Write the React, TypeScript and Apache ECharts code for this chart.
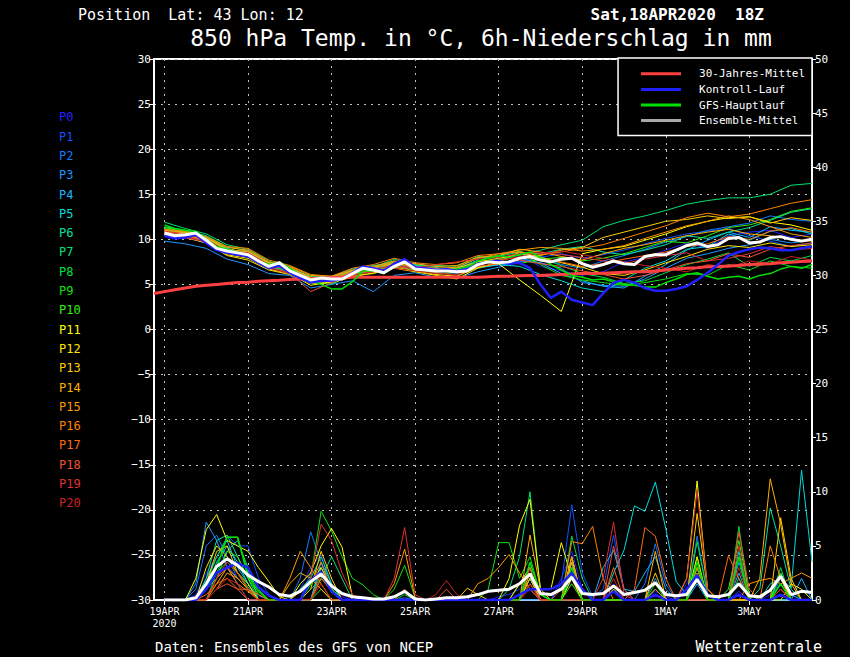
import React, { useEffect, useRef } from "react";
import * as echarts from "echarts";

const MONO = '"DejaVu Sans Mono", "Liberation Mono", monospace';
const MONTHS = ["JAN", "FEB", "MAR", "APR", "MAY", "JUN", "JUL", "AUG", "SEP", "OCT", "NOV", "DEC"];
const RUN_START_UTC = Date.UTC(2020, 3, 18, 18);
const STEP_COUNT = 64;
const timeCategories: string[] = Array.from({ length: STEP_COUNT }, (_, i) => {
  const d = new Date(RUN_START_UTC + i * 6 * 3600 * 1000);
  return `${d.getUTCDate()}${MONTHS[d.getUTCMonth()]} ${String(d.getUTCHours()).padStart(2, "0")}Z`;
});
const xTickLabels = ["19APR\n2020", "21APR", "23APR", "25APR", "27APR", "29APR", "1MAY", "3MAY"];
const isDayTick = (i: number) => i % 8 === 1;

const memberNames = ["P0", "P1", "P2", "P3", "P4", "P5", "P6", "P7", "P8", "P9", "P10", "P11", "P12", "P13", "P14", "P15", "P16", "P17", "P18", "P19", "P20"];
const memberColors = [
  "#2020ff", "#1050ff", "#1478ff", "#1e96ff", "#18b4ff", "#00dcdc", "#00e0a0", "#00e070", "#00e040", "#10e010", "#30f010",
  "#ffff00", "#ffe600", "#ffcc00", "#ffb000", "#ff9a00", "#ff8200", "#ff6a10", "#f05030", "#e03030", "#c82020",
];

// 850 hPa temperature of the members, every 12 h from 19APR 00Z
const tempP0 = [10.5, 10.3, 9.8, 8.6, 8.0, 6.8, 6.4, 5.2, 5.5, 6.4, 6.8, 7.2, 6.9, 6.7, 6.6, 7.4, 7.8, 8.2, 7.0, 6.5, 6.0, 6.4, 7.5, 8.0, 8.8, 9.6, 9.0, 10.4, 10.8, 11.0, 10.2, 10.6];
const tempP1 = [10.8, 10.6, 10.0, 8.9, 8.5, 7.2, 6.3, 5.4, 5.8, 6.1, 6.9, 7.1, 6.6, 6.8, 6.2, 7.0, 7.1, 7.5, 8.0, 8.4, 7.9, 8.3, 8.8, 9.5, 10.1, 10.6, 10.9, 11.2, 10.4, 9.8, 9.2, 9.6];
const tempP2 = [10.4, 10.2, 9.6, 8.5, 8.1, 6.9, 6.6, 5.6, 5.1, 6.0, 6.4, 7.1, 6.8, 6.3, 6.1, 7.3, 7.5, 8.4, 8.1, 7.2, 6.8, 7.6, 8.2, 8.9, 9.7, 10.3, 11.0, 11.4, 11.8, 12.6, 12.2, 12.0];
const tempP3 = [9.8, 9.5, 9.0, 7.8, 7.2, 6.2, 6.0, 4.6, 5.0, 5.4, 4.2, 6.0, 6.3, 5.8, 5.7, 6.4, 6.9, 7.6, 7.4, 6.8, 5.2, 4.9, 4.8, 5.6, 6.8, 7.9, 8.4, 9.0, 9.4, 10.0, 9.6, 9.9];
const tempP4 = [10.9, 10.7, 10.1, 8.8, 8.6, 7.1, 6.7, 5.7, 5.9, 6.3, 6.7, 7.3, 6.9, 6.6, 6.7, 7.7, 7.3, 7.9, 7.4, 6.2, 5.4, 4.8, 4.6, 5.9, 7.2, 8.8, 9.9, 10.8, 10.2, 11.4, 11.0, 10.8];
const tempP5 = [11.0, 10.8, 10.2, 9.0, 8.4, 7.3, 6.8, 5.9, 5.7, 6.6, 6.7, 7.6, 7.0, 6.9, 6.3, 6.8, 7.2, 7.0, 6.1, 5.4, 4.6, 4.2, 5.5, 6.8, 7.6, 8.9, 9.2, 10.6, 9.9, 10.9, 11.2, 10.6];
const tempP6 = [11.4, 11.0, 10.4, 9.2, 8.7, 7.4, 6.9, 5.8, 5.9, 6.7, 7.1, 7.4, 7.2, 7.0, 6.8, 7.9, 8.1, 8.6, 8.4, 8.9, 9.2, 8.6, 8.3, 8.8, 9.4, 10.4, 10.1, 10.8, 11.3, 12.1, 13.0, 13.4];
const tempP7 = [11.9, 11.2, 10.6, 9.4, 8.9, 7.6, 6.7, 5.9, 5.8, 6.5, 6.9, 7.8, 7.1, 7.1, 7.0, 8.1, 7.9, 8.3, 8.8, 9.4, 9.9, 11.4, 12.1, 12.6, 13.2, 13.9, 14.3, 14.6, 14.6, 15.0, 16.0, 16.2];
const tempP8 = [11.2, 10.9, 10.2, 8.7, 8.3, 7.0, 6.5, 5.3, 5.0, 6.1, 6.5, 7.0, 6.6, 6.4, 6.6, 7.6, 8.2, 8.7, 7.9, 7.1, 6.2, 5.8, 5.1, 5.4, 6.3, 7.2, 7.8, 8.5, 7.0, 8.0, 7.6, 8.2];
const tempP9 = [11.1, 10.8, 10.0, 8.8, 8.2, 7.1, 6.4, 5.4, 5.3, 6.3, 6.6, 7.4, 6.8, 6.2, 6.3, 7.6, 7.7, 8.5, 7.2, 6.0, 5.5, 5.2, 4.9, 5.2, 5.6, 6.2, 6.0, 7.2, 6.6, 7.6, 7.0, 6.8];
const tempP10 = [11.3, 10.9, 10.3, 8.9, 8.4, 7.2, 6.6, 5.5, 5.6, 6.2, 6.5, 7.2, 6.6, 6.5, 6.4, 7.2, 7.6, 7.3, 7.8, 8.0, 7.6, 7.9, 8.4, 9.1, 9.8, 9.6, 10.4, 11.3, 11.6, 12.2, 13.1, 13.5];
const tempP11 = [10.6, 10.5, 9.9, 8.3, 7.9, 6.7, 6.2, 4.9, 5.3, 6.0, 6.2, 6.9, 6.5, 6.1, 5.9, 6.9, 7.3, 5.5, 3.8, 2.0, 8.4, 8.9, 9.2, 9.9, 10.6, 11.4, 12.0, 12.4, 12.5, 11.9, 11.6, 11.0];
const tempP12 = [10.4, 10.2, 9.6, 8.2, 7.7, 6.6, 6.1, 5.1, 5.2, 5.8, 6.3, 6.8, 6.4, 6.0, 5.6, 6.8, 7.5, 8.6, 8.0, 7.4, 6.9, 6.2, 6.0, 6.6, 7.4, 8.1, 8.9, 9.3, 9.1, 9.6, 9.2, 9.4];
const tempP13 = [10.9, 10.7, 10.1, 8.9, 8.6, 7.4, 6.8, 5.8, 5.6, 6.4, 6.9, 7.3, 7.0, 6.7, 6.8, 7.5, 7.9, 8.3, 8.2, 8.8, 9.1, 10.2, 10.8, 11.4, 12.0, 12.2, 12.6, 12.3, 12.5, 11.8, 12.4, 12.1];
const tempP14 = [11.0, 10.8, 10.2, 9.1, 8.8, 7.5, 7.0, 6.0, 5.9, 6.5, 7.0, 7.6, 7.3, 7.0, 7.1, 8.0, 8.2, 8.9, 8.6, 8.1, 7.7, 8.4, 9.0, 9.4, 9.9, 10.4, 10.8, 11.1, 10.6, 10.4, 10.0, 9.8];
const tempP15 = [10.8, 10.6, 10.0, 8.8, 8.7, 7.3, 6.9, 5.7, 5.8, 6.6, 6.8, 7.5, 7.0, 6.8, 6.9, 7.9, 8.4, 8.8, 9.1, 9.0, 8.7, 8.9, 9.3, 10.1, 10.8, 11.5, 12.0, 12.6, 12.2, 11.4, 10.6, 10.2];
const tempP16 = [11.1, 10.9, 10.3, 9.2, 9.0, 7.7, 7.1, 6.1, 5.9, 6.8, 7.2, 7.9, 7.4, 7.2, 7.4, 8.2, 8.4, 8.6, 8.3, 8.6, 9.0, 9.4, 10.1, 10.8, 11.5, 12.4, 12.9, 12.5, 12.8, 13.4, 14.0, 14.4];
const tempP17 = [10.7, 10.4, 9.9, 8.6, 8.4, 7.1, 6.7, 5.3, 5.5, 6.4, 6.5, 7.3, 6.9, 6.5, 6.4, 7.3, 7.7, 8.0, 7.8, 7.5, 7.0, 7.3, 7.8, 8.2, 8.6, 9.2, 9.5, 10.3, 10.0, 10.9, 11.3, 10.8];
const tempP18 = [10.6, 10.3, 9.8, 8.5, 8.2, 6.9, 6.3, 4.2, 5.2, 6.1, 6.4, 7.0, 6.7, 6.3, 6.0, 7.0, 7.3, 7.7, 7.3, 7.0, 6.5, 6.1, 5.6, 6.0, 6.6, 7.3, 7.6, 8.4, 8.0, 8.9, 9.3, 9.6];
const tempP19 = [10.9, 10.6, 10.0, 8.7, 8.5, 7.2, 6.6, 5.6, 5.4, 6.3, 6.7, 7.1, 6.8, 7.2, 7.5, 7.8, 8.0, 8.4, 8.6, 8.3, 8.0, 7.6, 7.3, 7.8, 8.2, 8.5, 7.6, 7.9, 8.4, 9.2, 8.8, 9.0];
const tempP20 = [10.5, 10.2, 9.7, 8.4, 8.0, 6.8, 6.2, 5.2, 5.7, 6.0, 6.4, 6.8, 6.5, 6.2, 6.1, 7.1, 7.6, 8.1, 8.4, 8.7, 8.3, 7.9, 7.5, 7.1, 6.8, 6.4, 7.2, 6.9, 7.6, 7.3, 8.1, 7.7];
const tempMembers = [tempP0, tempP1, tempP2, tempP3, tempP4, tempP5, tempP6, tempP7, tempP8, tempP9, tempP10, tempP11, tempP12, tempP13, tempP14, tempP15, tempP16, tempP17, tempP18, tempP19, tempP20];

// 6-hour precipitation of the members, every 6 h from 19APR 00Z (mm)
const rainP0 = [0, 0, 0, 0.5, 2.5, 4, 3.2, 2, 1, 0.4, 0, 0, 0, 1, 3, 4.2, 1.5, 0.3, 0, 0, 0, 0, 0, 0, 0, 0, 0, 0, 0, 0, 0, 0, 0.3, 0.5, 1, 2, 0.5, 0, 2, 4.5, 1, 0, 0, 1.5, 0, 0, 0, 0.8, 0.3, 0, 1.5, 3.5, 0.5, 0, 0, 0.8, 0, 0, 0.5, 1.5, 0.5, 0, 0];
const rainP1 = [0, 0, 0, 0, 1, 3, 6, 5, 5, 2, 0.5, 0, 0, 0, 2.5, 3, 1, 0, 0, 0, 0, 0, 0, 0, 0, 0, 0, 0, 0, 0, 0, 0, 0, 0, 0, 0, 0, 0, 1.5, 8.8, 2.5, 0.3, 1, 6, 1, 0, 0, 0, 0, 0, 0, 2, 0, 0, 0, 0, 0, 0, 0, 0, 0, 0, 0];
const rainP2 = [0, 0, 0, 1, 5, 6, 4, 2, 1, 0, 0, 0, 0, 2, 6.3, 3.5, 0.8, 0, 0, 0, 0, 0, 0, 0.2, 0, 0, 0, 0, 0, 0, 0, 0, 0, 0, 0, 3.5, 0.5, 0, 0, 3, 0, 0, 0, 0, 0, 0, 1.5, 5.2, 1.5, 0, 0, 5.9, 0.5, 0, 0, 0, 0, 0, 0, 2, 0, 0, 0];
const rainP3 = [0, 0, 0, 1.5, 7.2, 5.5, 3, 1.5, 0, 0, 0, 0, 0, 0, 1.5, 2.5, 1, 0, 0, 0, 0, 0, 0, 0, 0, 0, 0, 0, 0, 0, 0, 0, 0, 0, 0.5, 1, 0, 0, 0, 2, 0, 0, 0, 1, 0, 0, 0, 2, 0, 0, 0, 0, 0, 0, 0, 3.5, 0, 0, 0, 2.5, 0.5, 0, 0];
const rainP4 = [0, 0, 0, 0, 2, 4, 5.5, 3, 1.5, 0, 0, 0, 0, 0, 0, 3.5, 1.5, 0, 0, 0, 0, 0, 0, 0, 0, 0, 0, 0, 0, 0, 0, 0, 0, 0, 0, 0, 0, 0, 0, 3.5, 0, 0, 3, 4.6, 1, 0.8, 2.5, 4, 1, 0, 0, 1.5, 0, 0, 0, 2.5, 0, 0, 0, 0, 0, 2, 0];
const rainP5 = [0, 0, 0, 0, 1, 3.5, 5, 3.5, 1.5, 0, 0, 0, 0, 0, 0, 3, 1, 0, 0, 0, 0, 0, 0, 0, 0, 0, 0, 0, 0, 0, 0, 0, 0, 0, 0, 2, 0, 0, 0, 0, 0, 0, 0, 2.5, 4.6, 8.7, 8.2, 10.9, 6.6, 1.7, 0.5, 2, 0, 0, 0, 4.5, 0, 0, 1.5, 2, 1.1, 12, 3.5];
const rainP6 = [0, 0, 0, 0, 2, 5.5, 6, 4, 2, 0, 0, 0, 0, 1, 2, 4, 1.5, 0, 0, 0, 0, 0, 0, 0, 0, 0, 0, 0, 0, 0, 0, 0, 0, 0, 1.5, 3, 0, 0, 0, 4, 0, 0, 0, 0, 0, 0, 0, 1, 0, 0, 0, 3, 0, 0, 0, 0, 0, 1, 8.5, 5, 1, 0, 0];
const rainP7 = [0, 0, 0, 0, 0, 2.5, 4.5, 5.5, 3, 0, 0, 0, 0, 0, 1, 2, 4, 2, 0, 0, 0, 0, 0, 0, 0, 0, 0, 0, 0, 0, 0, 0, 0, 1, 4, 10, 1, 0, 0, 2.5, 0, 0, 0, 0, 0, 0, 0, 0, 0, 0, 0, 2, 0, 0, 0, 2, 0, 0, 0, 0, 0, 0, 0];
const rainP8 = [0, 0, 0, 0, 1.5, 4, 5.8, 5.8, 2.5, 1, 0, 0, 0, 0, 0, 2, 1, 0, 0, 0, 0, 0, 0, 0.5, 0, 0, 0, 0, 0, 0, 0, 0, 0, 0, 0, 2, 0, 0, 0, 5.9, 2, 0, 0, 0, 0, 0, 0, 0, 0, 0, 0, 5.4, 0.5, 0, 0, 6.8, 0, 0, 0, 3, 0, 0, 0];
const rainP9 = [0, 0, 0, 0, 1, 2.5, 3.5, 2.5, 1.2, 0, 0, 0, 0, 0, 2, 8.2, 6.4, 4, 2, 1.4, 0.5, 0, 1, 3.2, 0.2, 0, 0, 0, 0, 0, 0, 1, 5.3, 5.3, 2, 4, 0.5, 0, 0, 0, 0, 0, 0, 0, 0, 0, 0, 1.5, 0, 0, 0, 3, 0, 0, 0, 0, 0, 0, 0, 1.5, 0, 0, 0];
const rainP10 = [0, 0, 0, 0, 1, 2, 4.5, 4, 2, 0.5, 0, 0, 0, 0, 0, 1, 0, 0, 0, 0, 0, 0, 0, 0, 0, 0, 0, 0, 0, 0, 0, 0, 0, 0, 0, 2.5, 0, 0, 0, 1.5, 0, 0, 0, 0, 0, 0, 0, 0, 0, 0, 0, 4, 0, 0, 1, 5.5, 0.5, 0, 0, 2.5, 0, 0, 0];
const rainP11 = [0, 0, 0, 2, 6.5, 7.9, 5.5, 5, 4.5, 3, 1.7, 0.3, 0, 1.5, 2.5, 5, 6.6, 4.9, 0.3, 0, 0, 0, 0, 0, 0, 0, 0, 0, 0, 0, 0, 0, 0, 2, 6.9, 9.3, 1, 1, 5.3, 2, 0, 0, 0, 0, 0, 0, 0, 0, 0, 0, 2, 11, 1, 0, 0, 0, 0, 0, 1, 2, 0, 0, 0];
const rainP12 = [0, 0, 0, 0, 3, 5, 4, 2.5, 1.5, 0, 0, 0, 0, 0.8, 1.5, 3, 1, 0, 0, 0, 0, 0, 0, 0, 0, 0, 0, 0, 0, 0, 0, 0, 0, 0, 1.5, 3, 0, 0, 0, 2, 0, 0, 0, 1, 0, 0, 0, 0, 0, 0, 0, 4, 0, 0, 0, 0, 0, 0, 0, 0, 1.5, 1, 0];
const rainP13 = [0, 0, 0, 0, 1.5, 4.5, 5, 2.5, 1, 0, 0, 0, 0, 0, 1, 4.5, 2, 0, 0, 0, 0, 0, 0, 0, 0, 0, 0, 0, 0, 1.1, 0.5, 0, 0, 0, 0, 2, 0, 0, 0, 4, 0, 0, 0, 0, 0, 0, 0, 2.5, 0, 0, 0, 8, 1, 0, 0, 0, 0, 0, 0, 7.6, 2, 0, 0];
const rainP14 = [0, 0, 0, 0, 0, 1.5, 3, 2, 1, 0, 0, 0, 1.5, 2.5, 2, 1, 0, 0, 0, 0, 0, 0, 0, 0, 0, 0, 0, 0, 0, 0, 0, 0, 0, 0, 0, 6, 1, 0, 0, 3.5, 0, 0, 0, 0, 0, 0, 0, 4.5, 0, 0, 0, 2.5, 0, 0, 0, 0, 0, 2, 11.2, 7, 1.5, 0, 0];
const rainP15 = [0, 0, 0, 0, 0, 1, 2.5, 2, 1, 0, 0, 0, 2, 4.5, 3, 1.5, 0, 0, 0, 0, 0, 0, 1.5, 4.7, 0.2, 0, 0, 0, 0, 0, 1.5, 2, 3, 4.2, 2.5, 1, 0, 0, 0, 4, 0, 0, 0, 0, 0, 0, 0, 1, 0, 0, 0, 0, 0, 0, 0, 0, 1.5, 1.8, 2, 1.5, 2, 2.5, 2];
const rainP16 = [0, 0, 0, 0, 0, 2, 3, 1.5, 0.8, 0, 0, 0, 0, 0, 1.5, 3.5, 1, 0, 0, 0, 0, 0, 0, 0, 0, 0, 0, 0, 0, 0, 0, 0, 0, 0, 0, 2.5, 0, 0, 0, 5.4, 5.2, 6.8, 2, 0, 0, 0, 0, 0, 0, 0, 0, 3, 0, 0, 0, 0, 0, 0, 5, 2, 0, 0, 0];
const rainP17 = [0, 0, 0, 0, 0.5, 1.5, 2, 1, 1, 0.5, 0, 0, 0, 0, 0, 2, 0.8, 0, 0, 0, 0, 0, 0, 1, 0, 0, 0, 0, 0, 0, 0, 0, 0, 0, 0, 1.5, 0, 0, 0, 0, 0, 0, 0, 3, 0, 1, 6.7, 5.9, 2, 0, 0, 0, 0, 0, 4.1, 2, 0, 0, 0, 1, 0, 0, 0];
const rainP18 = [0, 0, 0, 0, 0, 1, 1.5, 1, 0, 0, 0, 0, 0, 0, 0, 2.5, 1, 0, 0, 0, 0, 0, 0, 0, 0, 0, 0, 1, 0, 0, 0, 0, 0, 0, 0, 3, 0, 0, 1, 2.5, 0, 0, 0, 5, 1, 0, 0, 0, 0, 0, 0, 0, 0, 0, 0, 6.3, 1, 0, 0, 1, 0, 0, 0];
const rainP19 = [0, 0, 0, 0, 0, 2, 3.5, 2.5, 1, 0, 0, 0, 0, 0, 2, 7, 5.5, 2.5, 0.5, 0, 0, 0, 2, 6.7, 0.5, 0, 0, 0, 0, 0, 0, 0, 0, 0, 0, 1.5, 0, 0, 0, 0, 0, 0, 2, 7.2, 0.5, 0, 0, 0, 0, 0, 2, 10.1, 1, 0, 0, 5, 0, 0, 0, 1, 0, 0, 0];
const rainP20 = [0, 0, 0, 0, 0, 1, 2, 1.5, 0, 0, 0, 0, 0, 0, 0, 1.5, 0, 0, 0, 0, 0, 0, 0, 0, 0, 0, 0.5, 1.8, 0.5, 0, 0, 0, 0, 0, 0, 1, 0, 0, 0, 0, 0, 0, 0, 2, 0, 0, 0, 0, 0, 0, 0, 0, 0, 0, 0, 3, 0, 0, 0, 0.5, 0, 0, 0];
const rainMembers = [rainP0, rainP1, rainP2, rainP3, rainP4, rainP5, rainP6, rainP7, rainP8, rainP9, rainP10, rainP11, rainP12, rainP13, rainP14, rainP15, rainP16, rainP17, rainP18, rainP19, rainP20];

// 30-year mean, every 6 h from 18APR 18Z
const climateMean = [
  4.0, 4.2, 4.4, 4.6, 4.8, 4.9, 5.0, 5.1, 5.2, 5.25, 5.35, 5.4, 5.45, 5.55, 5.6, 5.65,
  5.7, 5.75, 5.8, 5.8, 5.8, 5.8, 5.8, 5.8, 5.8, 5.8, 5.8, 5.8, 5.8, 5.8, 5.8, 5.8,
  5.85, 5.9, 5.9, 5.95, 6.0, 6.0, 6.05, 6.1, 6.15, 6.2, 6.2, 6.25, 6.3, 6.35, 6.4, 6.4,
  6.5, 6.6, 6.7, 6.8, 6.85, 6.95, 7.0, 7.05, 7.1, 7.2, 7.25, 7.3, 7.4, 7.45, 7.55, 7.6,
];
// Every 6 h from 19APR 00Z
const ensembleMeanTemp = [
  10.7, 10.4, 10.5, 10.7, 9.9, 9.0, 8.7, 8.5, 8.3, 7.6, 7.0, 7.4, 6.5, 6.0, 5.5, 5.7,
  5.6, 5.6, 6.2, 6.8, 6.6, 6.3, 7.0, 7.5, 6.7, 6.6, 6.5, 6.5, 6.4, 6.5, 7.2, 7.5,
  7.4, 7.5, 7.9, 8.1, 7.7, 7.5, 7.8, 7.9, 7.3, 6.9, 7.2, 7.6, 7.3, 7.2, 8.1, 8.3,
  8.3, 8.8, 9.3, 9.6, 9.2, 9.4, 10.1, 10.2, 9.6, 9.7, 10.2, 10.3, 10.0, 9.8, 10.0,
];
const controlTemp = [
  10.4, 10.1, 10.2, 10.5, 9.6, 8.8, 8.5, 8.3, 8.1, 7.4, 6.8, 7.1, 6.3, 5.7, 5.2, 5.4,
  5.4, 5.6, 6.3, 7.0, 6.8, 6.5, 7.3, 7.8, 6.9, 6.8, 6.6, 6.7, 6.5, 6.7, 7.2, 7.5,
  7.6, 7.3, 7.4, 6.8, 5.0, 3.5, 4.2, 3.3, 3.0, 2.7, 4.0, 5.2, 5.5, 5.2, 4.6, 4.3,
  4.3, 4.5, 4.8, 5.5, 6.3, 7.2, 8.2, 8.6, 8.9, 9.1, 9.0, 8.8, 8.8, 9.0, 9.2,
];
const gfsTemp = [
  11.6, 11.2, 11.0, 10.9, 10.0, 9.2, 8.9, 8.6, 8.3, 7.6, 7.2, 7.5, 6.8, 6.0, 5.4, 5.0,
  4.5, 4.5, 5.3, 6.5, 6.5, 6.2, 7.0, 7.6, 6.8, 6.8, 6.4, 6.6, 6.7, 6.9, 7.6, 7.9,
  8.2, 8.0, 8.3, 8.6, 8.0, 7.2, 6.6, 6.0, 5.8, 5.5, 5.6, 5.3, 5.0, 4.9, 4.7, 4.7,
  5.2, 5.6, 6.1, 6.3, 5.9, 5.6, 5.8, 5.9, 5.6, 6.0, 6.2, 6.7, 7.0, 6.8, 7.2,
];
const ensembleMeanRain = [
  0, 0, 0, 0.2, 1.5, 3.1, 3.8, 3.2, 2.3, 1.7, 1.2, 0.5, 0.35, 0.8, 1.7, 2.4,
  1.3, 0.6, 0.3, 0.2, 0.1, 0.1, 0.3, 0.8, 0.1, 0, 0.1, 0.2, 0.2, 0.3, 0.5, 0.8,
  0.9, 1.0, 1.5, 2.4, 0.6, 0.5, 1.0, 2.1, 0.6, 0.5, 0.6, 1.3, 0.5, 0.7, 0.9, 1.6,
  0.5, 0.4, 0.5, 1.9, 0.4, 0.3, 0.5, 1.5, 0.4, 0.3, 0.9, 2.2, 0.5, 0.8, 0.7,
];
const controlRain = [
  0, 0, 0, 0, 1.0, 2.5, 3.0, 3.4, 3.0, 1.2, 0.4, 0, 0, 0, 1.8, 2.6,
  0.8, 0, 0, 0, 0, 0, 0, 0, 0, 0, 0, 0, 0, 0, 0, 0,
  0, 0, 0.5, 1.0, 1.0, 1.0, 1.5, 2.5, 1.0, 0, 0, 0.8, 0, 0, 0, 0.5,
  0, 0, 1.0, 2.3, 0.5, 0, 0, 0.5, 0, 0, 0, 0.5, 0, 0, 0,
];
const gfsRain = [
  0, 0, 0, 0, 1.0, 3.0, 5.8, 5.8, 2.2, 0.8, 0, 0, 0, 0, 1.5, 2.5,
  1.0, 0, 0, 0, 0, 0, 0, 0, 0, 0, 0, 0, 0, 0, 0, 0,
  0, 0, 0, 3.5, 0.5, 0, 0, 3.0, 0, 0, 0, 0, 0, 0, 0, 0,
  0, 0, 0, 3.5, 0, 0, 0, 4.0, 0, 0, 0, 1.5, 0, 0, 0,
];

const C_CLIM = "#ff4040";
const C_CTRL = "#2020ff";
const C_GFS = "#00e000";
const C_MEAN = "#ffffff";
const C_MEAN_LEGEND = "#a8a8a8";

const every6h = (arr: number[]) => arr.map((v, i) => [i + 1, v]);
const every12h = (arr: number[]) => arr.map((v, k) => [2 * k + 1, v]);

function buildOption() {
  const base = { type: "line", symbol: "none", silent: true, animation: false, emphasis: { disabled: true } };
  const series: any[] = [];
  rainMembers.forEach((arr, m) =>
    series.push({ ...base, name: memberNames[m], yAxisIndex: 1, data: every6h(arr), lineStyle: { color: memberColors[m], width: 1 } })
  );
  tempMembers.forEach((arr, m) =>
    series.push({ ...base, name: memberNames[m], yAxisIndex: 0, data: every12h(arr), lineStyle: { color: memberColors[m], width: 1 } })
  );
  series.push({ ...base, name: "30-Jahres-Mittel", yAxisIndex: 0, data: climateMean, itemStyle: { color: C_CLIM }, lineStyle: { color: C_CLIM, width: 3 } });
  series.push({ ...base, name: "GFS-Hauptlauf", yAxisIndex: 0, data: every6h(gfsTemp), itemStyle: { color: C_GFS }, lineStyle: { color: C_GFS, width: 1.5 } });
  series.push({ ...base, name: "GFS-Hauptlauf", yAxisIndex: 1, data: every6h(gfsRain), itemStyle: { color: C_GFS }, lineStyle: { color: C_GFS, width: 1.5 } });
  series.push({ ...base, name: "Kontroll-Lauf", yAxisIndex: 0, data: every6h(controlTemp), itemStyle: { color: C_CTRL }, lineStyle: { color: C_CTRL, width: 2.5 } });
  series.push({ ...base, name: "Kontroll-Lauf", yAxisIndex: 1, data: every6h(controlRain), itemStyle: { color: C_CTRL }, lineStyle: { color: C_CTRL, width: 2.5 } });
  series.push({ ...base, name: "Ensemble-Mittel", yAxisIndex: 1, data: every6h(ensembleMeanRain), itemStyle: { color: C_MEAN }, lineStyle: { color: C_MEAN, width: 3 } });
  series.push({ ...base, name: "Ensemble-Mittel", yAxisIndex: 0, data: every6h(ensembleMeanTemp), itemStyle: { color: C_MEAN }, lineStyle: { color: C_MEAN, width: 3 } });

  const dotted = { color: "#c0c0c0", type: [2, 5], width: 1 };
  const memberLabels = memberNames.map((n, i) => ({
    type: "text",
    x: 59,
    y: 117.3 + i * 19.3,
    silent: true,
    style: { text: n, fill: memberColors[i], fontFamily: MONO, fontSize: 12, align: "left", verticalAlign: "middle", textAlign: "left", textVerticalAlign: "middle" },
  }));
  const txt = (text: string, x: number, y: number, size: number, align: string, weight = "normal") => ({
    type: "text",
    x,
    y,
    silent: true,
    style: { text, fill: "#fff", fontFamily: MONO, fontSize: size, fontWeight: weight, align, verticalAlign: "middle", textAlign: align, textVerticalAlign: "middle" },
  });

  return {
    animation: false,
    backgroundColor: "#000",
    grid: { left: 154, right: 38, top: 59, bottom: 57, show: true, borderColor: "#fff", borderWidth: 2, containLabel: false },
    legend: {
      show: true,
      selectedMode: false,
      orient: "vertical",
      right: 38,
      top: 58,
      backgroundColor: "#000",
      borderColor: "#fff",
      borderWidth: 1.5,
      borderRadius: 0,
      padding: [9, 7, 8, 23],
      itemWidth: 40,
      itemHeight: 3,
      itemGap: 2,
      icon: "rect",
      textStyle: { color: "#fff", fontFamily: MONO, fontSize: 11, lineHeight: 13.6, padding: [0, 0, 0, 13] },
      data: [
        { name: "30-Jahres-Mittel", itemStyle: { color: C_CLIM } },
        { name: "Kontroll-Lauf", itemStyle: { color: C_CTRL } },
        { name: "GFS-Hauptlauf", itemStyle: { color: C_GFS } },
        { name: "Ensemble-Mittel", itemStyle: { color: C_MEAN_LEGEND } },
      ],
    },
    xAxis: {
      type: "category",
      data: timeCategories,
      boundaryGap: false,
      axisLine: { show: true, onZero: false, lineStyle: { color: "#fff", width: 2 } },
      axisTick: { show: true, interval: (i: number) => isDayTick(i), length: 5, lineStyle: { color: "#fff", width: 1 } },
      axisLabel: {
        show: true,
        interval: (i: number) => isDayTick(i),
        formatter: (_v: string, i: number) => xTickLabels[Math.floor(i / 8)] ?? "",
        color: "#fff",
        fontFamily: MONO,
        fontSize: 10,
        lineHeight: 12,
        margin: 5,
      },
      splitLine: { show: true, interval: (i: number) => isDayTick(i), lineStyle: dotted },
    },
    yAxis: [
      {
        type: "value",
        min: -30,
        max: 30,
        interval: 5,
        position: "left",
        axisLine: { show: true, onZero: false, lineStyle: { color: "#fff", width: 2 } },
        axisTick: { show: true, length: 5, lineStyle: { color: "#fff" } },
        axisLabel: { color: "#fff", fontFamily: MONO, fontSize: 11, margin: 3, formatter: (v: number) => String(v).replace("-", "\u2212") },
        splitLine: { show: true, lineStyle: dotted },
      },
      {
        type: "value",
        min: 0,
        max: 50,
        interval: 5,
        position: "right",
        axisLine: { show: true, onZero: false, lineStyle: { color: "#fff", width: 2 } },
        axisTick: { show: true, length: 4, lineStyle: { color: "#fff" } },
        axisLabel: { color: "#fff", fontFamily: MONO, fontSize: 11, margin: 3 },
        splitLine: { show: false },
      },
    ],
    graphic: [
      txt("Position  Lat: 43 Lon: 12", 78, 15, 15, "left"),
      txt("Sat,18APR2020  18Z", 764, 14, 16, "right", "bold"),
      txt("850 hPa Temp. in \u00b0C, 6h-Niederschlag in mm", 481, 37.5, 23, "center"),
      txt("Daten: Ensembles des GFS von NCEP", 155, 647, 14, "left"),
      txt("Wetterzentrale", 822, 647, 15, "right"),
      ...memberLabels,
    ],
    series,
  };
}

export default function App() {
  const ref = useRef<HTMLDivElement>(null);
  useEffect(() => {
    if (!ref.current) return;
    const chart = echarts.init(ref.current, undefined, { renderer: "svg" });
    chart.setOption(buildOption() as any);
    return () => chart.dispose();
  }, []);
  return <div ref={ref} style={{ position: "fixed", left: 0, top: 0, width: 850, height: 657, background: "#000" }} />;
}
